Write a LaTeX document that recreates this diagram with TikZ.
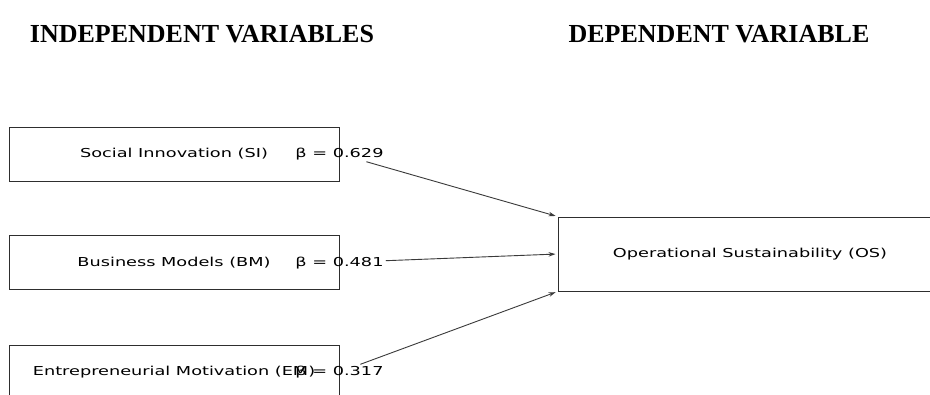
\documentclass[tikz,border=0pt]{standalone}
\usepackage{fontspec}
\usetikzlibrary{arrows.meta,positioning}
\setmainfont{Liberation Serif}
\newfontfamily\boxfont[FakeStretch=1.44]{DejaVu Sans}
\definecolor{edgegray}{HTML}{2E2E2E}
\definecolor{arrowgray}{HTML}{3A3A3A}
\tikzset{
  varbox/.style={draw=edgegray, line width=1pt, rectangle, inner sep=0pt,
    font=\boxfont\fontsize{12.3}{14}\selectfont},
  betalab/.style={inner sep=2pt, text height=9pt, text depth=2pt,
    font=\boxfont\fontsize{12.3}{14}\selectfont},
  heading/.style={anchor=base, font=\bfseries\fontsize{26}{30}\selectfont},
  effect/.style={-{Stealth[length=7pt,width=4.5pt]}, draw=arrowgray, line width=0.9pt, shorten >=2pt}
}

\begin{document}
\begin{tikzpicture}[x=1pt, y=-1pt]
  \clip (0,0) rectangle (930,394);
  \fill[white] (0,0) rectangle (930,394);

  % headings
  \node[heading] (indep) at (202,42) {INDEPENDENT VARIABLES};
  \node[heading] (dep) at (719,42) {DEPENDENT VARIABLE};

  % predictors
  \node[varbox, minimum width=330pt, minimum height=54pt] (si) at (174,154) {Social Innovation (SI)};
  \node[varbox, minimum width=330pt, minimum height=54pt] (bm) at (174,262.5) {Business Models (BM)};
  \node[varbox, minimum width=330pt, minimum height=54pt] (em) at (174,372) {Entrepreneurial Motivation (EM)};

  % outcome
  \node[varbox, minimum width=384pt, minimum height=74pt] (os) at (750,254) {Operational Sustainability (OS)};

  % path coefficients
  \node[betalab] (siB) at (si.east) {β = 0.629};
  \node[betalab] (bmB) at (bm.east) {β = 0.481};
  \node[betalab] (emB) at (em.east) {β = 0.317};

  \draw[effect] (siB) -- (os.north west);
  \draw[effect] (bmB) -- (os.west);
  \draw[effect] (emB) -- (os.south west);
\end{tikzpicture}
\end{document}
